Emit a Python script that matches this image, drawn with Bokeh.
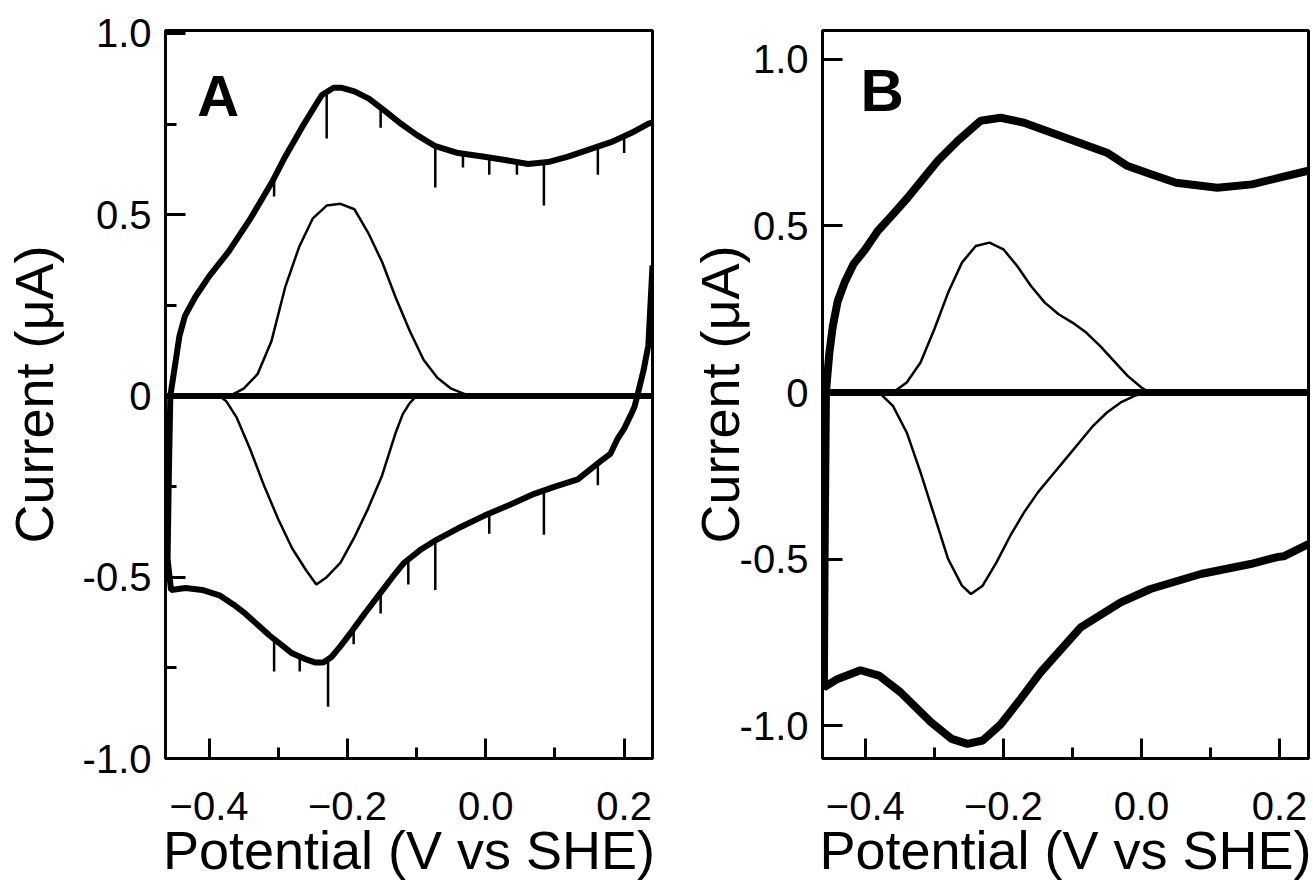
from bokeh.plotting import figure
from bokeh.layouts import row
from bokeh.models import Range1d, FixedTicker, Label
from bokeh.embed import file_html
from bokeh.resources import INLINE

FONT = "Liberation Sans"

# ---------------- Panel A data ----------------
a_up_x = [-0.456, -0.452, -0.448, -0.443, -0.435, -0.42, -0.40, -0.371, -0.34, -0.309, -0.29, -0.266,
          -0.25, -0.237, -0.22, -0.208, -0.19, -0.169, -0.145, -0.122, -0.10, -0.074, -0.04, -0.002,
          0.03, 0.061, 0.09, 0.119, 0.15, 0.181, 0.21, 0.234, 0.241]
a_up_y = [0.0, 0.05, 0.10, 0.164, 0.22, 0.273, 0.33, 0.40, 0.49, 0.59, 0.66, 0.74,
          0.79, 0.83, 0.85, 0.85, 0.84, 0.82, 0.785, 0.75, 0.72, 0.69, 0.67, 0.66,
          0.65, 0.64, 0.645, 0.66, 0.68, 0.70, 0.725, 0.75, 0.755]

a_lo_x = [-0.456, -0.458, -0.46, -0.455, -0.434, -0.41, -0.385, -0.365, -0.348, -0.313, -0.28, -0.262,
          -0.247, -0.235, -0.223, -0.21, -0.194, -0.175, -0.155, -0.135, -0.118, -0.095, -0.074, -0.04,
          -0.002, 0.035, 0.07, 0.10, 0.133, 0.166, 0.18, 0.19, 0.20, 0.209, 0.215, 0.219, 0.228, 0.235, 0.241]
a_lo_y = [0.0, -0.2, -0.45, -0.535, -0.53, -0.535, -0.55, -0.575, -0.60, -0.66, -0.71, -0.725,
          -0.735, -0.735, -0.72, -0.69, -0.65, -0.60, -0.55, -0.50, -0.46, -0.425, -0.40, -0.365,
          -0.33, -0.30, -0.27, -0.25, -0.23, -0.18, -0.16, -0.12, -0.09, -0.055, -0.03, 0.0, 0.07, 0.14, 0.36]

a_ox_x = [-0.463, -0.37, -0.35, -0.33, -0.31, -0.29, -0.27, -0.25, -0.23, -0.21, -0.19, -0.17,
          -0.15, -0.13, -0.11, -0.09, -0.07, -0.05, -0.03, -0.01, 0.241]
a_ox_y = [0.0, 0.0, 0.02, 0.06, 0.15, 0.30, 0.41, 0.49, 0.525, 0.53, 0.515, 0.45,
          0.37, 0.27, 0.18, 0.10, 0.05, 0.02, 0.005, 0.0, 0.0]

a_rd_x = [-0.463, -0.385, -0.375, -0.36, -0.34, -0.32, -0.30, -0.28, -0.26, -0.245, -0.23, -0.21,
          -0.19, -0.17, -0.15, -0.13, -0.12, -0.11, -0.10, 0.241]
a_rd_y = [0.0, 0.0, -0.015, -0.06, -0.15, -0.25, -0.34, -0.42, -0.48, -0.52, -0.50, -0.46,
          -0.39, -0.31, -0.22, -0.10, -0.05, -0.02, 0.0, 0.0]

a_spk_up_x = [-0.306, -0.230, -0.152, -0.073, -0.033, 0.005, 0.045, 0.084, 0.162, 0.200]
a_spk_up_base = [0.60, 0.83, 0.80, 0.69, 0.67, 0.66, 0.645, 0.645, 0.69, 0.72]
a_spk_up_tip = [0.55, 0.71, 0.74, 0.575, 0.63, 0.61, 0.61, 0.525, 0.61, 0.67]

a_spk_lo_x = [-0.306, -0.269, -0.228, -0.191, -0.152, -0.112, -0.073, 0.005, 0.084, 0.162]
a_spk_lo_base = [-0.67, -0.72, -0.725, -0.64, -0.54, -0.45, -0.40, -0.33, -0.26, -0.18]
a_spk_lo_tip = [-0.76, -0.76, -0.857, -0.685, -0.60, -0.52, -0.535, -0.38, -0.383, -0.246]

# ---------------- Panel B data ----------------
b_up_x = [-0.457, -0.455, -0.452, -0.447, -0.44, -0.43, -0.417, -0.40, -0.382, -0.36, -0.339, -0.317,
          -0.295, -0.266, -0.233, -0.204, -0.17, -0.13, -0.09, -0.05, -0.02, 0.013, 0.05, 0.11,
          0.16, 0.20, 0.242]
b_up_y = [0.0, 0.05, 0.12, 0.20, 0.274, 0.33, 0.386, 0.43, 0.485, 0.535, 0.584, 0.64,
          0.696, 0.756, 0.816, 0.825, 0.81, 0.78, 0.75, 0.72, 0.68, 0.656, 0.63, 0.615,
          0.625, 0.645, 0.666]

b_lo_x = [-0.457, -0.459, -0.46, -0.44, -0.407, -0.38, -0.349, -0.305, -0.275, -0.252, -0.23, -0.204,
          -0.175, -0.146, -0.088, -0.03, 0.013, 0.086, 0.158, 0.197, 0.206, 0.242]
b_lo_y = [0.0, -0.5, -0.885, -0.86, -0.834, -0.85, -0.90, -0.99, -1.04, -1.055, -1.045, -0.997,
          -0.92, -0.84, -0.705, -0.63, -0.59, -0.545, -0.515, -0.494, -0.492, -0.455]

b_ox_x = [-0.462, -0.36, -0.34, -0.32, -0.30, -0.28, -0.26, -0.24, -0.22, -0.20, -0.18, -0.16,
          -0.14, -0.12, -0.10, -0.08, -0.06, -0.04, -0.02, 0.0, 0.012, 0.242]
b_ox_y = [0.0, 0.0, 0.03, 0.09, 0.19, 0.30, 0.39, 0.44, 0.45, 0.43, 0.38, 0.32,
          0.27, 0.235, 0.21, 0.18, 0.14, 0.095, 0.05, 0.015, 0.0, 0.0]

b_rd_x = [-0.462, -0.38, -0.36, -0.34, -0.32, -0.30, -0.28, -0.26, -0.247, -0.23, -0.21, -0.19,
          -0.17, -0.15, -0.13, -0.11, -0.09, -0.07, -0.05, -0.03, -0.01, 0.005, 0.242]
b_rd_y = [0.0, 0.0, -0.04, -0.12, -0.24, -0.37, -0.50, -0.58, -0.605, -0.58, -0.51, -0.43,
          -0.36, -0.30, -0.25, -0.20, -0.15, -0.10, -0.06, -0.03, -0.01, 0.0, 0.0]

x_major = [-0.4, -0.2, 0.0, 0.2]
x_minor = [-0.3, -0.1, 0.1]
x_labels = ["\u22120.4", "\u22120.2", "0.0", "0.2"]
y_major = [-1.0, -0.5, 0.0, 0.5, 1.0]
y_labels = ["-1.0", "-0.5", "0", "0.5", "1.0"]
a_y_minor = [-0.75, -0.25, 0.25, 0.75]
b_y_minor = []

X_TITLE = "Potential (V vs SHE)"
Y_TITLE = "Current (\u03bcA)"

H = 882
TOP = 30      # plots in a row share aligned frames, so both use the same borders
BOTTOM = 117


def make_fig(width, xr, yr, mbl, mbr, yminor, ylab_standoff):
    p = figure(width=width, height=H, x_range=Range1d(*xr), y_range=Range1d(*yr),
               output_backend="svg", toolbar_location=None,
               min_border_left=mbl, min_border_right=mbr, min_border_top=TOP, min_border_bottom=BOTTOM)
    p.grid.visible = False
    p.outline_line_color = "black"
    p.outline_line_width = 3
    p.outline_line_alpha = 1.0
    p.background_fill_color = "white"
    p.border_fill_color = "white"
    p.xaxis.ticker = FixedTicker(ticks=x_major, minor_ticks=x_minor)
    p.xaxis.major_label_overrides = dict(zip(x_major, x_labels))
    p.yaxis.ticker = FixedTicker(ticks=y_major, minor_ticks=yminor)
    p.yaxis.major_label_overrides = dict(zip(y_major, y_labels))
    p.xaxis.axis_label = X_TITLE
    p.yaxis.axis_label = Y_TITLE
    for ax in (p.xaxis[0], p.yaxis[0]):
        ax.axis_line_width = 3
        ax.axis_line_color = "black"
        ax.major_tick_line_width = 3
        ax.minor_tick_line_width = 3
        ax.major_tick_line_color = "black"
        ax.minor_tick_line_color = "black"
        ax.major_tick_in = 20
        ax.major_tick_out = 0
        ax.minor_tick_in = 11
        ax.minor_tick_out = 0
        ax.major_label_text_font = FONT
        ax.major_label_text_font_size = "40px"
        ax.major_label_text_color = "black"
        ax.axis_label_text_font = FONT
        ax.axis_label_text_font_size = "54px"
        ax.axis_label_text_font_style = "normal"
        ax.axis_label_text_color = "black"
    p.xaxis.major_label_standoff = 33
    p.xaxis.axis_label_standoff = -3
    p.yaxis.major_label_standoff = 14
    p.yaxis.axis_label_standoff = ylab_standoff
    return p


# Panel A  (frame x 163-652)
pa = make_fig(670, (-0.463, 0.241), (-1.0, 1.008), 163, 18, a_y_minor, 16)
pa.line(a_ox_x, a_ox_y, line_color="black", line_width=2.5)
pa.line(a_rd_x, a_rd_y, line_color="black", line_width=2.5)
pa.line([-0.463, 0.241], [0, 0], line_color="black", line_width=6)
pa.line(a_up_x, a_up_y, line_color="black", line_width=6)
pa.line(a_lo_x, a_lo_y, line_color="black", line_width=6)
pa.segment(a_spk_up_x, a_spk_up_base, a_spk_up_x, a_spk_up_tip, line_color="black", line_width=2.5)
pa.segment(a_spk_lo_x, a_spk_lo_base, a_spk_lo_x, a_spk_lo_tip, line_color="black", line_width=2.5)
pa.add_layout(Label(x=-0.417, y=0.828, text="A", text_font=FONT, text_font_size="58px",
                    text_font_style="bold", text_color="black", text_baseline="middle"))

# Panel B  (frame x 822-1308)
pb = make_fig(643, (-0.462, 0.242), (-1.099, 1.087), 152, 5, b_y_minor, -13)
pb.line(b_ox_x, b_ox_y, line_color="black", line_width=2.5)
pb.line(b_rd_x, b_rd_y, line_color="black", line_width=2.5)
pb.line([-0.462, 0.242], [0, 0], line_color="black", line_width=7)
pb.line(b_up_x, b_up_y, line_color="black", line_width=8)
pb.line(b_lo_x, b_lo_y, line_color="black", line_width=8)
pb.add_layout(Label(x=-0.407, y=0.907, text="B", text_font=FONT, text_font_size="60px",
                    text_font_style="bold", text_color="black", text_baseline="middle"))

layout = row(pa, pb)
open("out.html", "w").write(file_html(layout, INLINE))
